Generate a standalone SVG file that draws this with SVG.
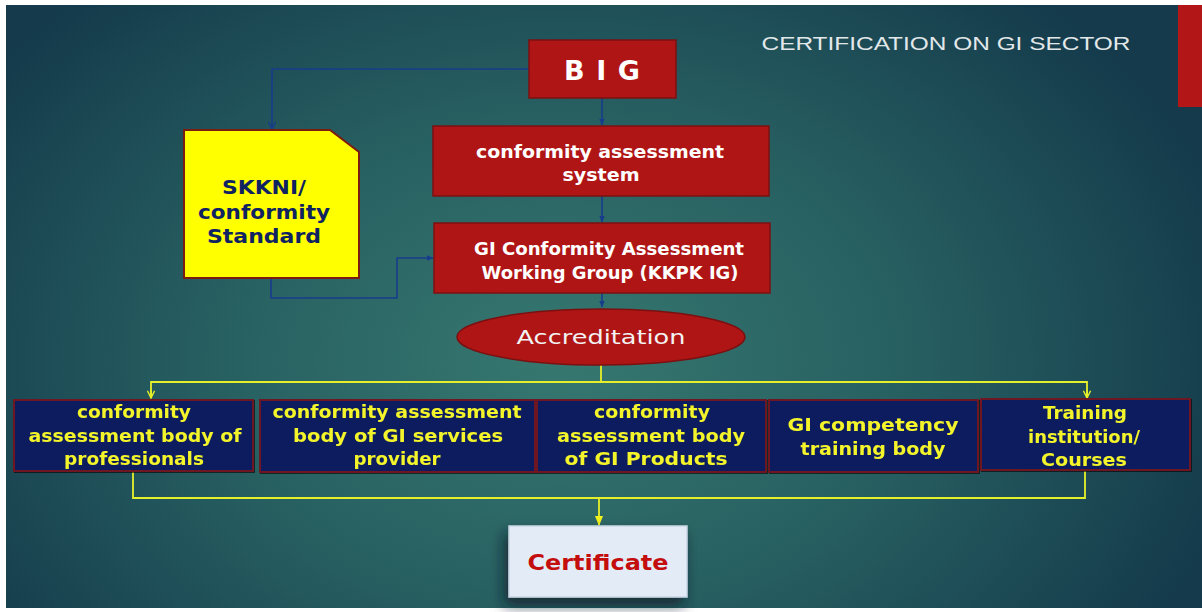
<svg xmlns="http://www.w3.org/2000/svg" width="1202" height="612" viewBox="0 0 1202 612">
<defs>
<radialGradient id="bg" cx="560" cy="360" r="700" gradientUnits="userSpaceOnUse" gradientTransform="translate(560 360) scale(1 0.72) translate(-560 -360)">
<stop offset="0" stop-color="#367870"/>
<stop offset="0.5" stop-color="#275f61"/>
<stop offset="1" stop-color="#143a4b"/>
</radialGradient>
<marker id="ab" viewBox="0 0 10 10" refX="9" refY="5" markerWidth="7" markerHeight="7" orient="auto-start-reverse" markerUnits="userSpaceOnUse">
<path d="M0,1 L10,5 L0,9 z" fill="#173c8c"/>
</marker>
<marker id="abo" viewBox="0 0 10 10" refX="9" refY="5" markerWidth="9" markerHeight="9" orient="auto" markerUnits="userSpaceOnUse">
<path d="M1,1 L9,5 L1,9" fill="none" stroke="#173c8c" stroke-width="1.6"/>
</marker>
<marker id="ay" viewBox="0 0 10 10" refX="9" refY="5" markerWidth="9" markerHeight="9" orient="auto" markerUnits="userSpaceOnUse">
<path d="M1,1 L9,5 L1,9" fill="none" stroke="#e6f02a" stroke-width="1.6"/>
</marker>
<marker id="ayf" viewBox="0 0 10 10" refX="9" refY="5" markerWidth="10" markerHeight="10" orient="auto" markerUnits="userSpaceOnUse">
<path d="M0,1 L10,5 L0,9 z" fill="#f2f21e"/>
</marker>
<filter id="sh" x="-30%" y="-30%" width="160%" height="170%">
<feDropShadow dx="-4" dy="8" stdDeviation="7" flood-color="#0a1f26" flood-opacity="0.75"/>
</filter>
<filter id="ts" x="-5%" y="-20%" width="110%" height="140%">
<feDropShadow dx="1" dy="1" stdDeviation="0.6" flood-color="#000" flood-opacity="0.6"/>
</filter>
<style>
.red{fill:#b01515;stroke:#7c1010;stroke-width:1.5}
.navy{fill:#0c1f5f;stroke:#6e1424;stroke-width:2}
.wt{font-family:"DejaVu Sans","Liberation Sans",sans-serif;font-weight:bold;fill:#ffffff;text-anchor:middle;font-size:17px}
.yt{font-family:"DejaVu Sans","Liberation Sans",sans-serif;font-weight:bold;fill:#f4f42a;text-anchor:middle;font-size:17px}
.st{font-family:"DejaVu Sans","Liberation Sans",sans-serif;font-weight:bold;fill:#0f2262;text-anchor:middle;font-size:20px}
.big{font-size:27px}
.bl{fill:none;stroke:#173c8c;stroke-width:1.6}
.yl{fill:none;stroke:#e6f02a;stroke-width:1.8}
</style>
</defs>
<rect x="0" y="0" width="1202" height="612" fill="#ffffff"/>
<rect x="6" y="5" width="1196" height="603" fill="url(#bg)"/>
<rect x="1178" y="5" width="24" height="102" fill="#b31616"/>
<text x="946" y="50" font-family="'Liberation Sans',sans-serif" font-size="19" fill="#e2e8ea" text-anchor="middle" textLength="369" lengthAdjust="spacingAndGlyphs">CERTIFICATION ON GI SECTOR</text>

<g id="connectors">
<path class="bl" d="M529,69 H272 V129" marker-end="url(#abo)"/>
<path class="bl" d="M602,98 V125" marker-end="url(#ab)"/>
<path class="bl" d="M602,196 V222" marker-end="url(#ab)"/>
<path class="bl" d="M602,293 V307" marker-end="url(#ab)"/>
<path class="bl" d="M271,278 V298 H397 V258 H433" marker-end="url(#ab)"/>
<path class="yl" d="M601,365 V382"/>
<path class="yl" d="M151,398 V382 H1087 V398"/>
<path class="yl" d="M151,390 V398" marker-end="url(#ay)"/>
<path class="yl" d="M1087,390 V398" marker-end="url(#ay)"/>
<path class="yl" d="M133,471 V498 H1085 V470"/>
<path class="yl" d="M599,498 V525" marker-end="url(#ayf)"/>
</g>

<g id="big">
<rect class="red" x="529" y="40" width="147" height="58"/>
<text class="wt big" x="602" y="80" textLength="76" lengthAdjust="spacing">B I G</text>
</g>

<g id="skkni">
<path d="M184,130 H330 L359,152 V278 H184 Z" fill="#ffff00" stroke="#7c1c10" stroke-width="2"/>
<text class="st" x="264" y="194" textLength="84" lengthAdjust="spacingAndGlyphs">SKKNI/</text>
<text class="st" x="264" y="219" textLength="132" lengthAdjust="spacingAndGlyphs">conformity</text>
<text class="st" x="264" y="243" textLength="114" lengthAdjust="spacingAndGlyphs">Standard</text>
</g>

<g id="cas">
<rect class="red" x="433" y="126" width="336" height="70"/>
<text class="wt" x="600" y="158" textLength="248" lengthAdjust="spacingAndGlyphs">conformity assessment</text>
<text class="wt" x="601" y="181" textLength="77" lengthAdjust="spacingAndGlyphs">system</text>
</g>

<g id="kkpk">
<rect class="red" x="434" y="223" width="336" height="70"/>
<text class="wt" x="609" y="255" textLength="270" lengthAdjust="spacingAndGlyphs">GI Conformity Assessment</text>
<text class="wt" x="610" y="279" textLength="257" lengthAdjust="spacingAndGlyphs">Working Group (KKPK IG)</text>
</g>

<g id="accreditation">
<ellipse cx="601" cy="337" rx="144" ry="28" fill="#b01515" stroke="#7c1010" stroke-width="1.5"/>
<text x="601" y="344" font-family="'DejaVu Sans','Liberation Sans',sans-serif" font-size="20" fill="#f3f3f3" text-anchor="middle" textLength="169" lengthAdjust="spacingAndGlyphs">Accreditation</text>
</g>

<g id="body1" filter="url(#ts)">
<rect class="navy" x="14" y="400" width="239" height="71"/>
<text class="yt" x="134" y="418" textLength="114" lengthAdjust="spacingAndGlyphs">conformity</text>
<text class="yt" x="135" y="442" textLength="213" lengthAdjust="spacingAndGlyphs">assessment body of</text>
<text class="yt" x="134" y="465" textLength="140" lengthAdjust="spacingAndGlyphs">professionals</text>
</g>

<g id="body2" filter="url(#ts)">
<rect class="navy" x="260" y="400" width="275" height="72"/>
<text class="yt" x="397" y="418" textLength="249" lengthAdjust="spacingAndGlyphs">conformity assessment</text>
<text class="yt" x="398" y="442" textLength="210" lengthAdjust="spacingAndGlyphs">body of GI services</text>
<text class="yt" x="397" y="465" textLength="87" lengthAdjust="spacingAndGlyphs">provider</text>
</g>

<g id="body3" filter="url(#ts)">
<rect class="navy" x="537" y="400" width="229" height="72"/>
<text class="yt" x="652" y="418" textLength="116" lengthAdjust="spacingAndGlyphs">conformity</text>
<text class="yt" x="651" y="442" textLength="188" lengthAdjust="spacingAndGlyphs">assessment body</text>
<text class="yt" x="646" y="465" textLength="163" lengthAdjust="spacingAndGlyphs">of GI Products</text>
</g>

<g id="body4" filter="url(#ts)">
<rect class="navy" x="769" y="400" width="209" height="72"/>
<text class="yt" x="873" y="431" textLength="171" lengthAdjust="spacingAndGlyphs">GI competency</text>
<text class="yt" x="873" y="455" textLength="145" lengthAdjust="spacingAndGlyphs">training body</text>
</g>

<g id="body5" filter="url(#ts)">
<rect class="navy" x="981" y="399" width="209" height="71"/>
<text class="yt" x="1085" y="419" textLength="84" lengthAdjust="spacingAndGlyphs">Training</text>
<text class="yt" x="1084" y="443" textLength="112" lengthAdjust="spacingAndGlyphs">institution/</text>
<text class="yt" x="1084" y="466" textLength="86" lengthAdjust="spacingAndGlyphs">Courses</text>
</g>

<g id="certificate">
<rect x="509" y="526" width="178" height="71" fill="#e3ecf6" stroke="#c9d6e4" stroke-width="1.5" filter="url(#sh)"/>
<text x="598" y="570" font-family="'DejaVu Sans','Liberation Sans',sans-serif" font-weight="bold" font-size="21" fill="#c40d0d" text-anchor="middle" textLength="141" lengthAdjust="spacingAndGlyphs">Certificate</text>
</g>
</svg>
